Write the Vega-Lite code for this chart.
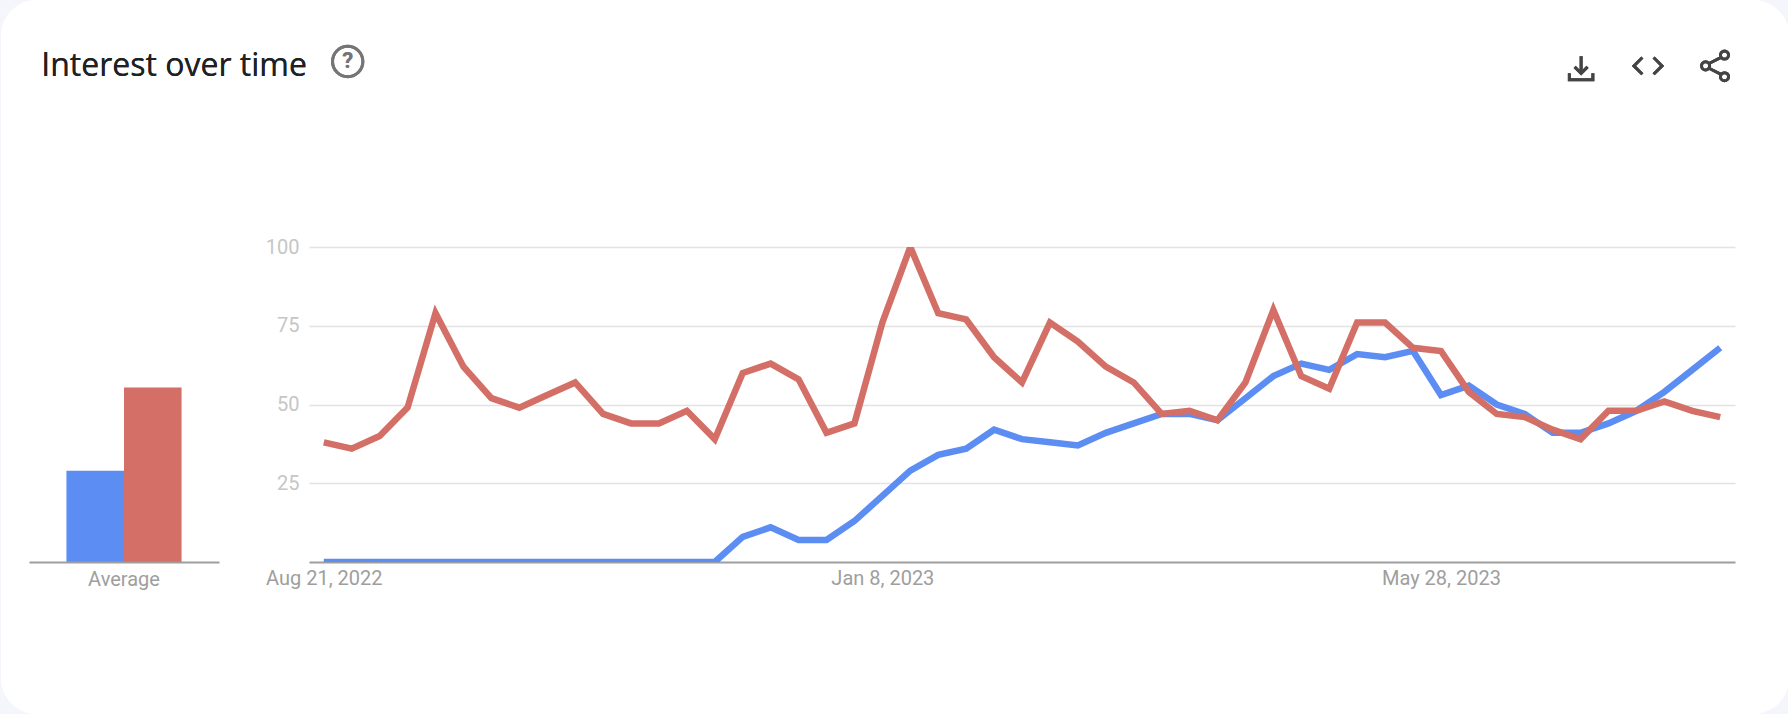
{
  "$schema": "https://vega.github.io/schema/vega-lite/v6.json",
  "background": "#f5f6fc",
  "padding": 0,
  "autosize": {"type": "pad", "contains": "content"},
  "datasets": {
    "average": [
      {"panel": "Average", "series": "Blue", "value": 29},
      {"panel": "Average", "series": "Red", "value": 55.4}
    ],
    "weekly": [
      {"date": "2022-08-21T00:00:00", "series": "Blue", "value": 0},
      {"date": "2022-08-28T00:00:00", "series": "Blue", "value": 0},
      {"date": "2022-09-04T00:00:00", "series": "Blue", "value": 0},
      {"date": "2022-09-11T00:00:00", "series": "Blue", "value": 0},
      {"date": "2022-09-18T00:00:00", "series": "Blue", "value": 0},
      {"date": "2022-09-25T00:00:00", "series": "Blue", "value": 0},
      {"date": "2022-10-02T00:00:00", "series": "Blue", "value": 0},
      {"date": "2022-10-09T00:00:00", "series": "Blue", "value": 0},
      {"date": "2022-10-16T00:00:00", "series": "Blue", "value": 0},
      {"date": "2022-10-23T00:00:00", "series": "Blue", "value": 0},
      {"date": "2022-10-30T00:00:00", "series": "Blue", "value": 0},
      {"date": "2022-11-06T00:00:00", "series": "Blue", "value": 0},
      {"date": "2022-11-13T00:00:00", "series": "Blue", "value": 0},
      {"date": "2022-11-20T00:00:00", "series": "Blue", "value": 0},
      {"date": "2022-11-27T00:00:00", "series": "Blue", "value": 0},
      {"date": "2022-12-04T00:00:00", "series": "Blue", "value": 8},
      {"date": "2022-12-11T00:00:00", "series": "Blue", "value": 11},
      {"date": "2022-12-18T00:00:00", "series": "Blue", "value": 7},
      {"date": "2022-12-25T00:00:00", "series": "Blue", "value": 7},
      {"date": "2023-01-01T00:00:00", "series": "Blue", "value": 13},
      {"date": "2023-01-08T00:00:00", "series": "Blue", "value": 21},
      {"date": "2023-01-15T00:00:00", "series": "Blue", "value": 29},
      {"date": "2023-01-22T00:00:00", "series": "Blue", "value": 34},
      {"date": "2023-01-29T00:00:00", "series": "Blue", "value": 36},
      {"date": "2023-02-05T00:00:00", "series": "Blue", "value": 42},
      {"date": "2023-02-12T00:00:00", "series": "Blue", "value": 39},
      {"date": "2023-02-19T00:00:00", "series": "Blue", "value": 38},
      {"date": "2023-02-26T00:00:00", "series": "Blue", "value": 37},
      {"date": "2023-03-05T00:00:00", "series": "Blue", "value": 41},
      {"date": "2023-03-12T00:00:00", "series": "Blue", "value": 44},
      {"date": "2023-03-19T00:00:00", "series": "Blue", "value": 47},
      {"date": "2023-03-26T00:00:00", "series": "Blue", "value": 47},
      {"date": "2023-04-02T00:00:00", "series": "Blue", "value": 45},
      {"date": "2023-04-09T00:00:00", "series": "Blue", "value": 52},
      {"date": "2023-04-16T00:00:00", "series": "Blue", "value": 59},
      {"date": "2023-04-23T00:00:00", "series": "Blue", "value": 63},
      {"date": "2023-04-30T00:00:00", "series": "Blue", "value": 61},
      {"date": "2023-05-07T00:00:00", "series": "Blue", "value": 66},
      {"date": "2023-05-14T00:00:00", "series": "Blue", "value": 65},
      {"date": "2023-05-21T00:00:00", "series": "Blue", "value": 67},
      {"date": "2023-05-28T00:00:00", "series": "Blue", "value": 53},
      {"date": "2023-06-04T00:00:00", "series": "Blue", "value": 56},
      {"date": "2023-06-11T00:00:00", "series": "Blue", "value": 50},
      {"date": "2023-06-18T00:00:00", "series": "Blue", "value": 47},
      {"date": "2023-06-25T00:00:00", "series": "Blue", "value": 41},
      {"date": "2023-07-02T00:00:00", "series": "Blue", "value": 41},
      {"date": "2023-07-09T00:00:00", "series": "Blue", "value": 44},
      {"date": "2023-07-16T00:00:00", "series": "Blue", "value": 48},
      {"date": "2023-07-23T00:00:00", "series": "Blue", "value": 54},
      {"date": "2023-07-30T00:00:00", "series": "Blue", "value": 61},
      {"date": "2023-08-06T00:00:00", "series": "Blue", "value": 68},
      {"date": "2022-08-21T00:00:00", "series": "Red", "value": 38},
      {"date": "2022-08-28T00:00:00", "series": "Red", "value": 36},
      {"date": "2022-09-04T00:00:00", "series": "Red", "value": 40},
      {"date": "2022-09-11T00:00:00", "series": "Red", "value": 49},
      {"date": "2022-09-18T00:00:00", "series": "Red", "value": 79},
      {"date": "2022-09-25T00:00:00", "series": "Red", "value": 62},
      {"date": "2022-10-02T00:00:00", "series": "Red", "value": 52},
      {"date": "2022-10-09T00:00:00", "series": "Red", "value": 49},
      {"date": "2022-10-16T00:00:00", "series": "Red", "value": 53},
      {"date": "2022-10-23T00:00:00", "series": "Red", "value": 57},
      {"date": "2022-10-30T00:00:00", "series": "Red", "value": 47},
      {"date": "2022-11-06T00:00:00", "series": "Red", "value": 44},
      {"date": "2022-11-13T00:00:00", "series": "Red", "value": 44},
      {"date": "2022-11-20T00:00:00", "series": "Red", "value": 48},
      {"date": "2022-11-27T00:00:00", "series": "Red", "value": 39},
      {"date": "2022-12-04T00:00:00", "series": "Red", "value": 60},
      {"date": "2022-12-11T00:00:00", "series": "Red", "value": 63},
      {"date": "2022-12-18T00:00:00", "series": "Red", "value": 58},
      {"date": "2022-12-25T00:00:00", "series": "Red", "value": 41},
      {"date": "2023-01-01T00:00:00", "series": "Red", "value": 44},
      {"date": "2023-01-08T00:00:00", "series": "Red", "value": 76},
      {"date": "2023-01-15T00:00:00", "series": "Red", "value": 100},
      {"date": "2023-01-22T00:00:00", "series": "Red", "value": 79},
      {"date": "2023-01-29T00:00:00", "series": "Red", "value": 77},
      {"date": "2023-02-05T00:00:00", "series": "Red", "value": 65},
      {"date": "2023-02-12T00:00:00", "series": "Red", "value": 57},
      {"date": "2023-02-19T00:00:00", "series": "Red", "value": 76},
      {"date": "2023-02-26T00:00:00", "series": "Red", "value": 70},
      {"date": "2023-03-05T00:00:00", "series": "Red", "value": 62},
      {"date": "2023-03-12T00:00:00", "series": "Red", "value": 57},
      {"date": "2023-03-19T00:00:00", "series": "Red", "value": 47},
      {"date": "2023-03-26T00:00:00", "series": "Red", "value": 48},
      {"date": "2023-04-02T00:00:00", "series": "Red", "value": 45},
      {"date": "2023-04-09T00:00:00", "series": "Red", "value": 57},
      {"date": "2023-04-16T00:00:00", "series": "Red", "value": 80},
      {"date": "2023-04-23T00:00:00", "series": "Red", "value": 59},
      {"date": "2023-04-30T00:00:00", "series": "Red", "value": 55},
      {"date": "2023-05-07T00:00:00", "series": "Red", "value": 76},
      {"date": "2023-05-14T00:00:00", "series": "Red", "value": 76},
      {"date": "2023-05-21T00:00:00", "series": "Red", "value": 68},
      {"date": "2023-05-28T00:00:00", "series": "Red", "value": 67},
      {"date": "2023-06-04T00:00:00", "series": "Red", "value": 54},
      {"date": "2023-06-11T00:00:00", "series": "Red", "value": 47},
      {"date": "2023-06-18T00:00:00", "series": "Red", "value": 46},
      {"date": "2023-06-25T00:00:00", "series": "Red", "value": 42},
      {"date": "2023-07-02T00:00:00", "series": "Red", "value": 39},
      {"date": "2023-07-09T00:00:00", "series": "Red", "value": 48},
      {"date": "2023-07-16T00:00:00", "series": "Red", "value": 48},
      {"date": "2023-07-23T00:00:00", "series": "Red", "value": 51},
      {"date": "2023-07-30T00:00:00", "series": "Red", "value": 48},
      {"date": "2023-08-06T00:00:00", "series": "Red", "value": 46}
    ]
  },
  "bounds": "flush",
  "spacing": 90,
  "hconcat": [
    {
      "width": 190,
      "height": 315,
      "data": {"name": "average"},
      "resolve": {"scale": {"x": "independent"}, "axis": {"x": "independent"}},
      "layer": [
        {
          "layer": [
            {
              "mark": {"type": "rect", "color": "#ffffff", "cornerRadius": 36},
              "encoding": {
                "x": {"datum": 0, "type": "quantitative", "axis": null, "scale": {"domain": [1.566, 12.192]}},
                "x2": {"datum": 100},
                "y": {"datum": 178.41, "type": "quantitative", "axis": null, "scale": {"domain": [0, 100]}},
                "y2": {"datum": -48.25}
              }
            },
            {
              "mark": {"type": "text", "text": "Interest over time", "align": "left", "baseline": "alphabetic", "font": "Open Sans", "fontSize": 32, "color": "#202124"},
              "encoding": {
                "x": {"datum": 2.25, "type": "quantitative", "axis": null, "scale": {"domain": [1.566, 12.192]}},
                "y": {"datum": 154.3, "type": "quantitative", "axis": null, "scale": {"domain": [0, 100]}}
              }
            },
            {
              "mark": {"type": "point", "shape": "circle", "size": 920, "filled": false, "stroke": "#757575", "strokeWidth": 3, "opacity": 1},
              "encoding": {
                "x": {"datum": 19.39, "type": "quantitative", "axis": null, "scale": {"domain": [1.566, 12.192]}},
                "y": {"datum": 158.9, "type": "quantitative", "axis": null, "scale": {"domain": [0, 100]}}
              }
            },
            {
              "mark": {"type": "text", "text": "?", "align": "center", "baseline": "middle", "font": "Roboto", "fontWeight": "bold", "fontSize": 22, "color": "#757575"},
              "encoding": {
                "x": {"datum": 19.39, "type": "quantitative", "axis": null, "scale": {"domain": [1.566, 12.192]}},
                "y": {"datum": 158.9, "type": "quantitative", "axis": null, "scale": {"domain": [0, 100]}}
              }
            },
            {
              "mark": {"type": "point", "shape": "M0 -1L0 0.4M-0.55 -0.1L0 0.45L0.55 -0.1M-1 0.45L-1 1L1 1L1 0.45", "size": 553, "filled": false, "stroke": "#444444", "strokeWidth": 3, "opacity": 1},
              "encoding": {
                "x": {"datum": 88.37, "type": "quantitative", "axis": null, "scale": {"domain": [1.566, 12.192]}},
                "y": {"datum": 156.8, "type": "quantitative", "axis": null, "scale": {"domain": [0, 100]}}
              }
            },
            {
              "mark": {"type": "point", "shape": "M-0.4 -0.6L-1 0L-0.4 0.6M0.4 -0.6L1 0L0.4 0.6", "size": 790, "filled": false, "stroke": "#444444", "strokeWidth": 3, "opacity": 1},
              "encoding": {
                "x": {"datum": 92.11, "type": "quantitative", "axis": null, "scale": {"domain": [1.566, 12.192]}},
                "y": {"datum": 157.5, "type": "quantitative", "axis": null, "scale": {"domain": [0, 100]}}
              }
            },
            {
              "mark": {"type": "point", "shape": "M-0.52 -0.14L0.52 -0.66M-0.52 0.14L0.52 0.66M-1 0a0.3 0.3 0 1 0 0.6 0a0.3 0.3 0 1 0 -0.6 0M0.4 -0.8a0.3 0.3 0 1 0 0.6 0a0.3 0.3 0 1 0 -0.6 0M0.4 0.8a0.3 0.3 0 1 0 0.6 0a0.3 0.3 0 1 0 -0.6 0", "size": 730, "filled": false, "stroke": "#444444", "strokeWidth": 3, "opacity": 1},
              "encoding": {
                "x": {"datum": 95.86, "type": "quantitative", "axis": null, "scale": {"domain": [1.566, 12.192]}},
                "y": {"datum": 157.5, "type": "quantitative", "axis": null, "scale": {"domain": [0, 100]}}
              }
            }
          ]
        },
        {
          "mark": {"type": "bar", "stroke": null},
          "encoding": {
            "x": {
              "field": "panel",
              "type": "nominal",
              "title": null,
              "scale": {"paddingInner": 0, "paddingOuter": 0.325},
              "axis": {"zindex": 1, "labelAngle": 0, "ticks": false, "domain": true, "domainColor": "#9e9e9e", "domainWidth": 2, "labelColor": "#9e9e9e", "labelFont": "Roboto", "labelFontSize": 20, "labelPadding": 7}
            },
            "xOffset": {"field": "series", "type": "nominal", "scale": {"paddingInner": 0, "paddingOuter": 0}},
            "y": {"field": "value", "type": "quantitative", "axis": null, "scale": {"domain": [0, 100]}},
            "color": {"field": "series", "type": "nominal", "legend": null, "scale": {"domain": ["Blue", "Red"], "range": ["#5c8df2", "#d36f66"]}}
          }
        }
      ]
    },
    {
      "width": 1426,
      "height": 315,
      "data": {"name": "weekly"},
      "mark": {"type": "line", "strokeWidth": 6.5, "strokeJoin": "miter", "strokeCap": "butt", "clip": true},
      "encoding": {
        "x": {
          "field": "date",
          "type": "temporal",
          "title": null,
          "scale": {"domain": [{"year": 2022, "month": 8, "date": 17, "hours": 7}, {"year": 2023, "month": 8, "date": 9, "hours": 17}]},
          "axis": {
            "values": [{"year": 2022, "month": 8, "date": 21}, {"year": 2023, "month": 1, "date": 8}, {"year": 2023, "month": 5, "date": 28}],
            "format": "%b %-d, %Y",
            "grid": false,
            "ticks": false,
            "domainColor": "#9e9e9e",
            "domainWidth": 2,
            "labelColor": "#9e9e9e",
            "labelFont": "Roboto",
            "labelFontSize": 20,
            "labelPadding": 6,
            "labelFlush": false,
            "labelOverlap": false
          }
        },
        "y": {
          "field": "value",
          "type": "quantitative",
          "title": null,
          "scale": {"domain": [0, 100]},
          "axis": {
            "values": [25, 50, 75, 100],
            "grid": true,
            "gridColor": "#e2e2e2",
            "gridWidth": 1.6,
            "domain": false,
            "ticks": false,
            "labelColor": "#c6c6c6",
            "labelFont": "Roboto",
            "labelFontSize": 20,
            "labelPadding": 10
          }
        },
        "color": {"field": "series", "type": "nominal", "legend": null, "scale": {"domain": ["Blue", "Red"], "range": ["#5c8df2", "#d36f66"]}}
      }
    }
  ],
  "config": {"view": {"stroke": null}}
}
